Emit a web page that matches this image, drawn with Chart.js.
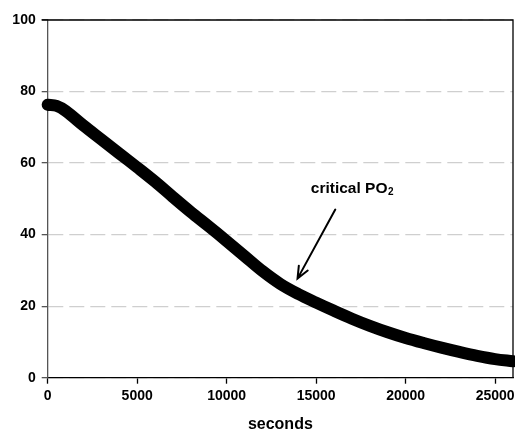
<!DOCTYPE html>
<html>
<head>
<meta charset="utf-8">
<script src="https://cdn.jsdelivr.net/npm/chart.js@4"></script>
<style>
  html, body { margin: 0; padding: 0; background: #fff; }
  canvas { display: block; }
</style>
</head>
<body>
<canvas id="chart" width="515" height="431"></canvas>
<script>
// Data
var seconds = [0, 500, 1000, 2000, 3000, 4000, 5000, 6000, 7000, 8000, 9000, 10000, 11000, 12000,
  13000, 14000, 15000, 16000, 17000, 18000, 19000, 20000, 21000, 22000, 23000, 24000, 25000, 26000];
var po2 = [76.3, 76.0, 74.6, 70.5, 66.6, 62.7, 58.8, 54.8, 50.5, 46.3, 42.3, 38.2, 34.0, 29.8,
  26.2, 23.4, 21.0, 18.7, 16.5, 14.5, 12.7, 11.1, 9.7, 8.4, 7.2, 6.1, 5.2, 4.6];

var xTitle = "seconds";
var noteText = "critical PO";
var noteSub = "2";
var noteAt = [17000, 52.7];
var arrowFrom = [16070, 47];
var arrowTo = [13960, 27.7];

var FONT = "'Liberation Sans', Arial, sans-serif";

// top / right frame lines and the annotation arrow
var extras = {
  id: "extras",
  afterDraw: function (chart) {
    var ctx = chart.ctx, a = chart.chartArea;
    var xs = chart.scales.x, ys = chart.scales.y;
    ctx.save();
    ctx.strokeStyle = "#000";
    ctx.lineWidth = 1.3;
    ctx.beginPath();
    ctx.moveTo(a.left - 6, a.top);
    ctx.lineTo(a.right, a.top);
    ctx.lineTo(a.right, a.bottom);
    ctx.stroke();

    // label
    ctx.fillStyle = "#000";
    ctx.textBaseline = "middle";
    ctx.font = "bold 15.5px " + FONT;
    var w1 = ctx.measureText(noteText).width;
    ctx.font = "bold 10px " + FONT;
    var w2 = ctx.measureText(noteSub).width;
    var tx = xs.getPixelForValue(noteAt[0]) - (w1 + w2) / 2;
    var ty = ys.getPixelForValue(noteAt[1]);
    ctx.font = "bold 15.5px " + FONT;
    ctx.textAlign = "left";
    ctx.fillText(noteText, tx, ty);
    ctx.font = "bold 10px " + FONT;
    ctx.fillText(noteSub, tx + w1 + 0.5, ty + 3);

    // arrow
    var x1 = xs.getPixelForValue(arrowFrom[0]), y1 = ys.getPixelForValue(arrowFrom[1]);
    var x2 = xs.getPixelForValue(arrowTo[0]), y2 = ys.getPixelForValue(arrowTo[1]);
    var ang = Math.atan2(y2 - y1, x2 - x1);
    ctx.lineWidth = 2;
    ctx.lineCap = "round";
    ctx.beginPath();
    ctx.moveTo(x1, y1);
    ctx.lineTo(x2, y2);
    ctx.moveTo(x2 - 13 * Math.cos(ang - 0.4), y2 - 13 * Math.sin(ang - 0.4));
    ctx.lineTo(x2, y2);
    ctx.lineTo(x2 - 13 * Math.cos(ang + 0.4), y2 - 13 * Math.sin(ang + 0.4));
    ctx.stroke();
    ctx.restore();
  }
};

new Chart(document.getElementById("chart"), {
  type: "line",
  data: {
    labels: seconds,
    datasets: [{
      data: seconds.map(function (s, i) { return { x: s, y: po2[i] }; }),
      borderColor: "#000",
      borderWidth: 12,
      borderCapStyle: "round",
      borderJoinStyle: "round",
      tension: 0.35,
      pointRadius: 0,
      clip: false
    }]
  },
  options: {
    responsive: false,
    animation: false,
    events: [],
    layout: { padding: { top: 20, right: 2, left: 0, bottom: 0 } },
    plugins: { legend: { display: false }, tooltip: { enabled: false } },
    scales: {
      x: {
        type: "linear",
        min: 0,
        max: 26000,
        afterFit: function (s) { s.height = 53.3; s.paddingLeft = 0; s.paddingRight = 0; },
        afterBuildTicks: function (s) {
          s.ticks = [0, 5000, 10000, 15000, 20000, 25000].map(function (v) { return { value: v }; });
        },
        border: { display: true, color: "#000", width: 1.3 },
        grid: { drawOnChartArea: false, drawTicks: true, tickLength: 6, tickColor: "#000", tickWidth: 1.3 },
        ticks: {
          color: "#000",
          padding: 4,
          maxRotation: 0,
          autoSkip: false,
          font: { family: FONT, size: 14, weight: "bold" },
          callback: function (v) { return String(v); }
        },
        title: {
          display: true,
          text: xTitle,
          color: "#000",
          padding: { top: 15, bottom: -3 },
          font: { family: FONT, size: 16, weight: "bold" }
        }
      },
      y: {
        min: 0,
        max: 100,
        afterFit: function (s) { s.width = 47.7; },
        border: { display: true, color: "#555", width: 1.3, dash: [15, 6] },
        grid: { color: "#cfcfcf", lineWidth: 1.3, tickLength: 6, tickColor: "#555", tickWidth: 1.3 },
        ticks: {
          stepSize: 20,
          color: "#000",
          padding: 6,
          font: { family: FONT, size: 14, weight: "bold" }
        }
      }
    }
  },
  plugins: [extras]
});
</script>
</body>
</html>
